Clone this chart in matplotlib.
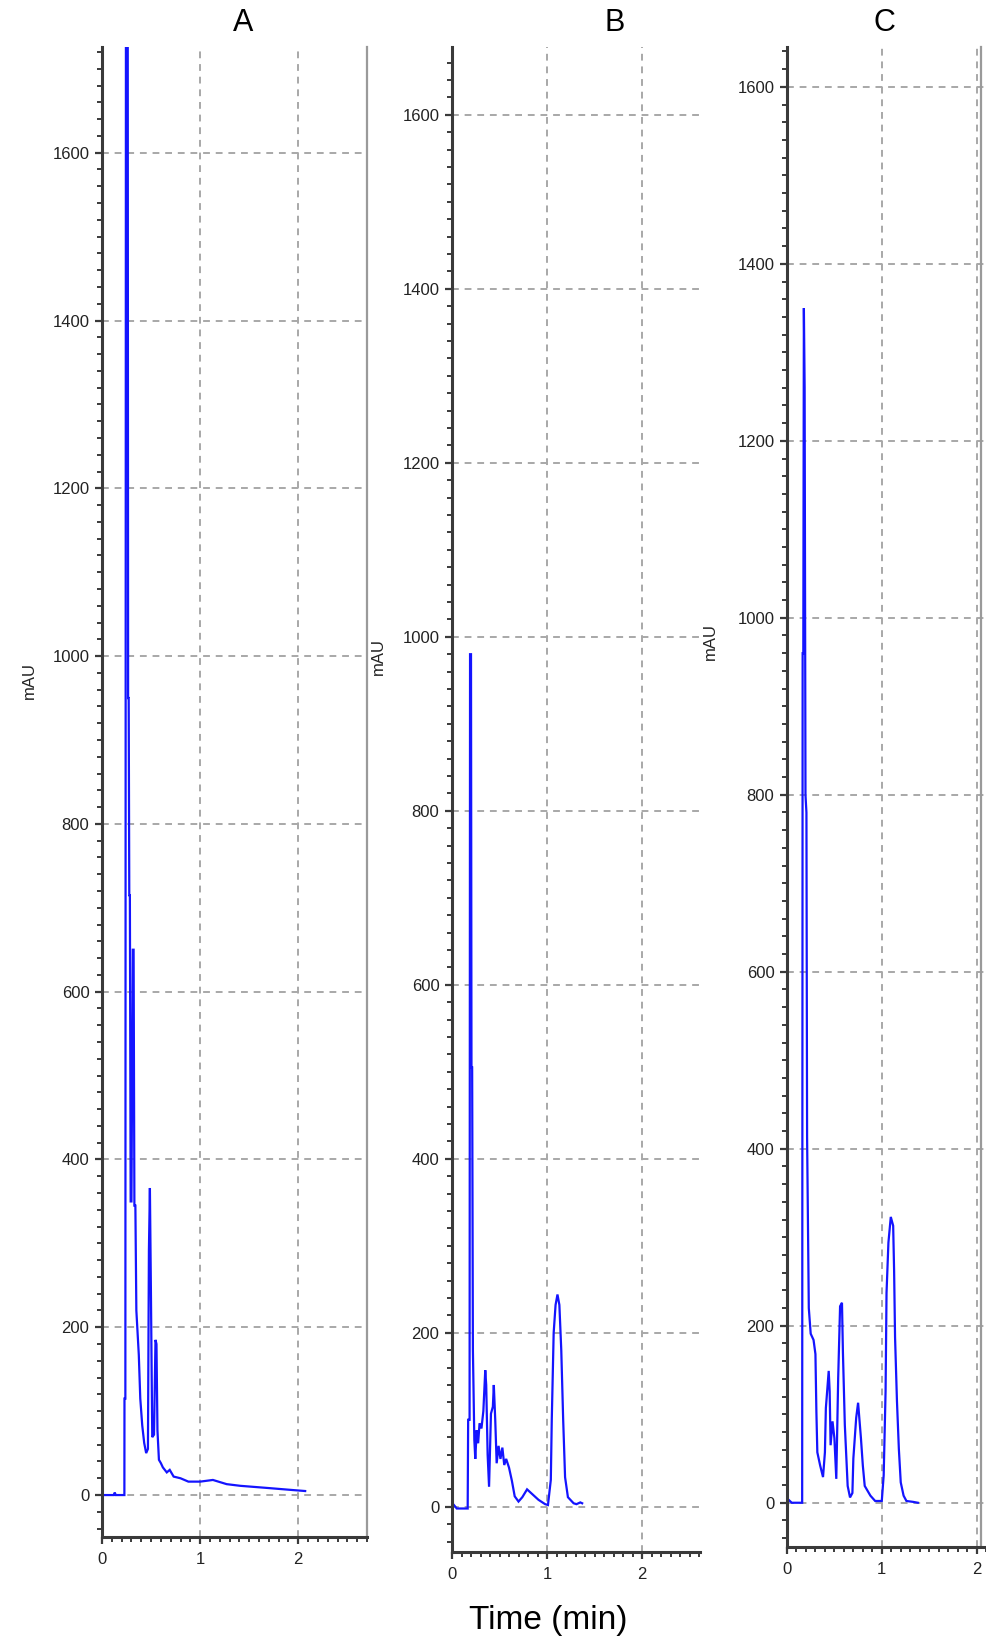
import matplotlib
matplotlib.use("Agg")
import matplotlib.pyplot as plt
from matplotlib.ticker import MultipleLocator, FixedLocator

# ---------------- data ----------------
panel_titles = ["A", "B", "C"]
y_label = "mAU"
x_label = "Time (min)"
y_ticks = [0, 200, 400, 600, 800, 1000, 1200, 1400, 1600]
x_ticks = [0, 1, 2]

time_a = [0.0, 0.12, 0.13, 0.14, 0.228, 0.229, 0.238, 0.244, 0.262, 0.266,
          0.272, 0.278, 0.284, 0.292, 0.300, 0.314, 0.322, 0.330, 0.340, 0.350,
          0.375, 0.39, 0.41, 0.43, 0.45, 0.468, 0.478, 0.488, 0.498, 0.512,
          0.53, 0.545, 0.555, 0.565, 0.58, 0.60, 0.62, 0.66, 0.69, 0.73,
          0.80, 0.88, 1.0, 1.13, 1.27, 1.41, 1.68, 1.94, 2.07]
signal_a = [0, 0, 3, 0, 0, 115, 115, 1800, 1800, 950,
            950, 715, 715, 350, 350, 650, 650, 345, 345, 220,
            167, 115, 83, 62, 50, 55, 292, 366, 248, 69,
            72, 185, 180, 77, 42, 38, 33, 27, 30, 22,
            20, 16, 16, 18, 13, 11, 8.5, 6, 4.8]

time_b = [0.0, 0.02, 0.05, 0.165, 0.17, 0.185, 0.19, 0.20, 0.205, 0.212, 0.22,
          0.235, 0.245, 0.26, 0.275, 0.29, 0.31, 0.33, 0.35, 0.36, 0.375, 0.39,
          0.41, 0.43, 0.44, 0.455, 0.47, 0.49, 0.51, 0.53, 0.55, 0.57, 0.60,
          0.63, 0.66, 0.70, 0.74, 0.79, 0.84, 0.91, 0.98, 1.01, 1.04, 1.05,
          1.07, 1.09, 1.11, 1.13, 1.15, 1.17, 1.19, 1.22, 1.28, 1.31, 1.35, 1.37]
signal_b = [0, 2, -2, -2, 100, 100, 980, 980, 505, 505, 180,
            77, 55, 88, 73, 96, 90, 110, 157, 140, 60, 23,
            107, 115, 140, 100, 50, 70, 55, 68, 48, 55, 45,
            30, 12, 6, 11, 20, 15, 8, 3, 2, 31, 100,
            200, 232, 244, 232, 180, 100, 34, 11, 4, 3, 5, 4]

time_c = [0.0, 0.02, 0.05, 0.16, 0.165, 0.172, 0.178, 0.186, 0.195, 0.205, 0.212,
          0.23, 0.25, 0.28, 0.30, 0.31, 0.32, 0.35, 0.38, 0.40, 0.41, 0.44,
          0.45, 0.46, 0.48, 0.50, 0.52, 0.54, 0.56, 0.58, 0.59, 0.61, 0.64,
          0.665, 0.69, 0.70, 0.73, 0.75, 0.78, 0.80, 0.82, 0.88, 0.93, 1.0,
          1.02, 1.04, 1.05, 1.07, 1.095, 1.12, 1.13, 1.14, 1.16, 1.18, 1.20,
          1.23, 1.26, 1.33, 1.38]
signal_c = [0, 3, 0, 0, 960, 960, 1350, 1260, 800, 780, 413,
            220, 191, 184, 168, 103, 57, 42, 29, 57, 107, 149,
            126, 65, 92, 73, 27, 141, 222, 226, 170, 88, 19,
            6, 11, 50, 96, 113, 73, 42, 19, 8, 2, 2,
            31, 126, 237, 294, 323, 313, 262, 187, 115, 61, 23,
            8, 2, 1, 0]

panel_times = [time_a, time_b, time_c]
panel_signals = [signal_a, signal_b, signal_c]

# ---------------- layout / style ----------------
W, H = 987, 1642
fig = plt.figure(figsize=(W / 100, H / 100), dpi=100)
fig.patch.set_facecolor("white")

def rect(l, r, t, b):
    return [l / W, (H - b) / H, (r - l) / W, (b - t) / H]

specs = [
    dict(rect=rect(102, 367, 47, 1537), xlim=(0, 2.70), ylim=(-50, 1726),
         lab=(-0.245, 0.575), right=2.70, title_x=243),
    dict(rect=rect(452, 700, 47, 1552), xlim=(0, 2.61), ylim=(-52, 1678),
         lab=(-0.268, 0.595), right=None, title_x=615),
    dict(rect=rect(787, 987, 47, 1547), xlim=(0, 2.11), ylim=(-50, 1645),
         lab=(-0.345, 0.604), right=2.05, title_x=884),
]

tick_font = ["Liberation Sans Narrow", "Liberation Sans", "DejaVu Sans"]
title_font = ["Liberation Sans", "DejaVu Sans"]
grid_kw = dict(color="#a8a8a8", linestyle=(0, (3.5, 3)), linewidth=1.4)
axis_col = "#3a3a3a"

for i, sp in enumerate(specs):
    ax = fig.add_axes(sp["rect"])
    ax.plot(panel_times[i], panel_signals[i], color="#1414ff", linewidth=1.6,
            solid_joinstyle="miter")
    ax.set_xlim(*sp["xlim"])
    ax.set_ylim(*sp["ylim"])

    ax.yaxis.set_major_locator(FixedLocator(y_ticks))
    ax.yaxis.set_minor_locator(MultipleLocator(20))
    ax.xaxis.set_major_locator(FixedLocator(x_ticks))
    ax.xaxis.set_minor_locator(MultipleLocator(0.1))

    for y in y_ticks:
        ax.axhline(y, zorder=0, **grid_kw)
    for x in x_ticks[1:]:
        ax.axvline(x, zorder=0, **grid_kw)

    ax.spines["top"].set_visible(False)
    ax.spines["left"].set_color(axis_col)
    ax.spines["left"].set_linewidth(2.2)
    ax.spines["bottom"].set_color(axis_col)
    ax.spines["bottom"].set_linewidth(2.2)
    if sp["right"] is None:
        ax.spines["right"].set_visible(False)
    else:
        ax.spines["right"].set_position(("data", sp["right"]))
        ax.spines["right"].set_color("#9a9a9a")
        ax.spines["right"].set_linewidth(1.6)

    ax.tick_params(axis="both", which="major", direction="out", length=5,
                   width=1.6, color=axis_col, labelsize=12,
                   labelcolor="#222222")
    ax.tick_params(axis="both", which="minor", direction="out", length=3.5,
                   width=1.4, color=axis_col)
    ax.tick_params(axis="y", which="major", pad=4)
    ax.tick_params(axis="x", which="major", pad=6)
    for lab in ax.get_xticklabels() + ax.get_yticklabels():
        lab.set_family(tick_font)

    ax.set_ylabel(y_label, fontsize=12, family=tick_font, color="#222222")
    ax.yaxis.set_label_coords(*sp["lab"])

    fig.text(sp["title_x"] / W, 1 - 23 / H, panel_titles[i], fontsize=22,
             family=title_font, ha="center", va="center")

fig.text(548 / W, 1 - 1620 / H, x_label, fontsize=24, family=title_font,
         ha="center", va="center")

fig.savefig("out.png", dpi=100)
